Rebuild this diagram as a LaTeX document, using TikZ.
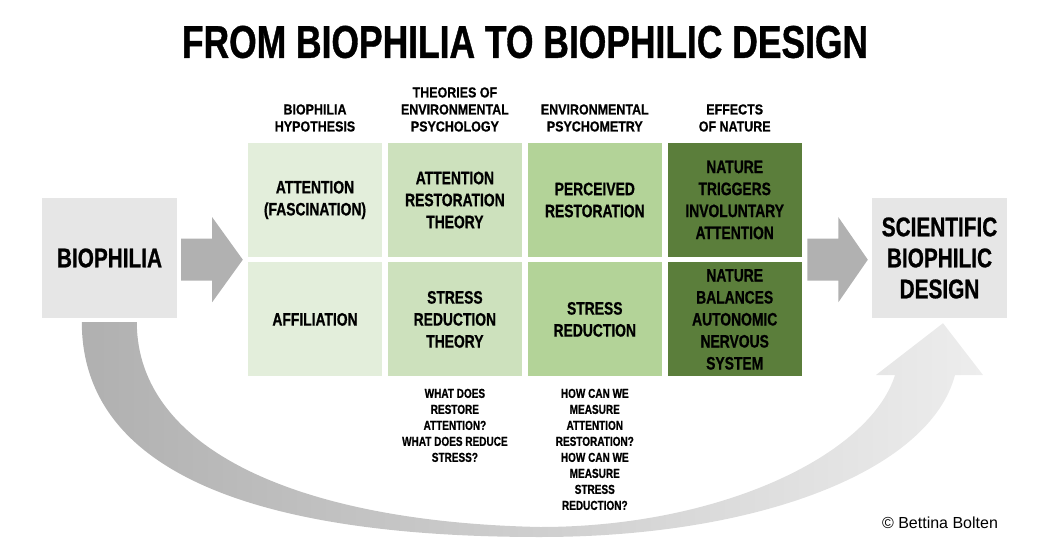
\documentclass[tikz,border=0pt]{standalone}
\usepackage{fontspec}
\setmainfont{Liberation Sans}
\newfontfamily\condensed{Liberation Sans}[FakeStretch=0.77,BoldFeatures={FakeBold=0.8}]
\newfontfamily\headfont{Liberation Sans}[FakeStretch=0.86,BoldFeatures={FakeBold=0.6}]
\usetikzlibrary{positioning,calc}
\definecolor{hypothesis}{HTML}{E3EEDB}
\definecolor{theory}{HTML}{CDE1BD}
\definecolor{psychometry}{HTML}{B3D398}
\definecolor{effect}{HTML}{5B7E3B}
\definecolor{boxgray}{HTML}{E6E6E6}
\definecolor{arrowgray}{HTML}{B1B1B1}
\definecolor{curvedark}{HTML}{B0B0B0}
\definecolor{curvelight}{HTML}{EDEDED}

\begin{document}
\begin{tikzpicture}[x=1pt,y=-1pt,
  cell/.style={minimum width=134pt,minimum height=114pt,inner sep=0pt,align=center,
    font=\condensed\bfseries\fontsize{18}{22}\selectfont},
  endbox/.style={fill=boxgray,minimum width=135pt,minimum height=120pt,inner sep=0pt,
    align=center,font=\condensed\bfseries\fontsize{27}{31}\selectfont},
  colhead/.style={inner sep=0pt,align=center,font=\headfont\bfseries\fontsize{14.5}{17}\selectfont},
  question/.style={inner sep=0pt,align=center,font=\condensed\bfseries\fontsize{13}{16}\selectfont},
  blockarrow/.style={fill=arrowgray}]
  \useasboundingbox (0,0) rectangle (1060,543);

  \node[font=\condensed\bfseries\fontsize{46}{50}\selectfont] (title) at (525,42)
    {FROM BIOPHILIA TO BIOPHILIC DESIGN};

  % grid of the four columns
  \node[cell,fill=hypothesis] (fascination) at (315,200) {ATTENTION\\(FASCINATION)};
  \node[cell,fill=theory,right=5.5pt of fascination] (art) {ATTENTION\\RESTORATION\\THEORY};
  \node[cell,fill=psychometry,right=5.5pt of art] (perceived) {PERCEIVED\\RESTORATION};
  \node[cell,fill=effect,right=5.5pt of perceived] (involuntary) {NATURE\\TRIGGERS\\INVOLUNTARY\\ATTENTION};
  \node[cell,fill=hypothesis,below=5pt of fascination] (affiliation) {AFFILIATION};
  \node[cell,fill=theory,below=5pt of art] (srt) {STRESS\\REDUCTION\\THEORY};
  \node[cell,fill=psychometry,below=5pt of perceived] (reduction) {STRESS\\REDUCTION};
  \node[cell,fill=effect,below=5pt of involuntary] (autonomic) {NATURE\\BALANCES\\AUTONOMIC\\NERVOUS\\SYSTEM};

  \node[colhead,above=11pt of fascination] (hypohead) {BIOPHILIA\\HYPOTHESIS};
  \node[colhead,above=11pt of art] (theohead) {THEORIES OF\\ENVIRONMENTAL\\PSYCHOLOGY};
  \node[colhead,above=11pt of perceived] (metrichead) {ENVIRONMENTAL\\PSYCHOMETRY};
  \node[colhead,above=11pt of involuntary] (effecthead) {EFFECTS\\OF NATURE};

  \node[question,below=12pt of srt] (whatq) {WHAT DOES\\RESTORE\\ATTENTION?\\WHAT DOES REDUCE\\STRESS?};
  \node[question,below=12pt of reduction] (howq) {HOW CAN WE\\MEASURE\\ATTENTION\\RESTORATION?\\HOW CAN WE\\MEASURE\\STRESS\\REDUCTION?};

  % start and goal
  \node[endbox] (bio) at (109.5,258) {BIOPHILIA};
  \node[endbox] (design) at (939.5,258) {SCIENTIFIC\\BIOPHILIC\\DESIGN};

  \coordinate (gridw) at ($(fascination.south west)!0.5!(affiliation.north west)$);
  \coordinate (gride) at ($(involuntary.south east)!0.5!(autonomic.north east)$);

  \fill[blockarrow] ($(bio.east |- gridw)+(4,0)$) coordinate (a1) ++(0,-21) -- ++(31,0) -- ++(0,-21.5)
    -- ($(gridw)+(-5,0)$) -- ($(a1)+(31,42.5)$) -- ++(0,-21.5) -- ++(-31,0) -- cycle;
  \fill[blockarrow] ($(gride)+(5.5,0)$) coordinate (a2) ++(0,-21) -- ++(31,0) -- ++(0,-21.5)
    -- ($(design.west |- gride)+(-4,0)$) -- ($(a2)+(31,42.5)$) -- ++(0,-21.5) -- ++(-31,0) -- cycle;

  % the long way round
  \shade[left color=curvedark,right color=curvelight]
    ($(bio.south west)+(40,4)$) .. controls (82,465) and (240,537) .. (540,537)
    .. controls (760,537) and (930,470) .. (955,375) -- (983,375)
    -- ($(design.south)+(3.5,5)$) -- (876,375) -- (895,375)
    .. controls (870,455) and (720,527) .. (540,527)
    .. controls (300,522) and (137,450) .. ($(bio.south west)+(95,4)$) -- cycle;

  \node[font=\fontsize{16}{19}\selectfont] (credit) at (940,523) {© Bettina Bolten};
\end{tikzpicture}
\end{document}
